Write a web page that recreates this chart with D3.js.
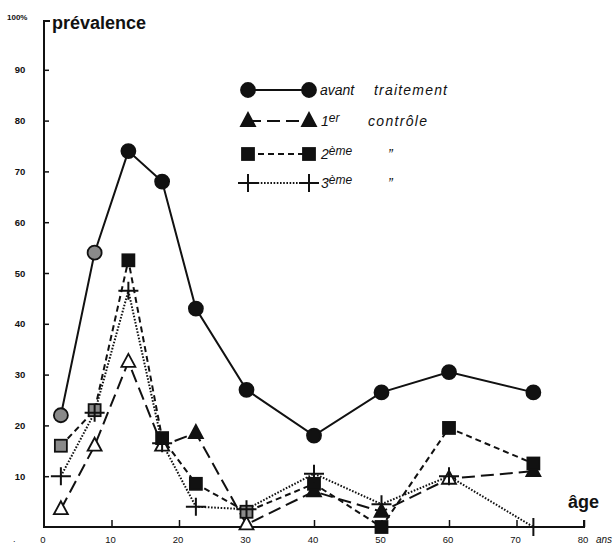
<!DOCTYPE html>
<html>
<head>
<meta charset="utf-8">
<script src="https://cdn.jsdelivr.net/npm/d3@7"></script>
<style>
  body { margin: 0; background: #fff; }
  svg { display: block; }
  text { fill: #111; font-family: "Liberation Sans", Arial, sans-serif; }
</style>
</head>
<body>
<div id="chart"></div>
<script>
// age groups (years) and prevalence (%) per survey
var ages = [2.5, 7.5, 12.5, 17.5, 22.5, 30, 40, 50, 60, 72.5];
var avant = [22, 54, 74, 68, 43, 27, 18, 26.5, 30.5, 26.5];
var ctrl1 = [3.5, 16, 32.5, 16, 18.5, 0.5, 7, 3, 9.5, 11];
var ctrl2 = [16, 23, 52.5, 17.5, 8.5, 3, 8.5, 0, 19.5, 12.5];
var ctrl3 = [10, 22.5, 46.5, 16.5, 4, 3.5, 10.5, 4.5, 10, 0];
var yTicks = [10, 20, 30, 40, 50, 60, 70, 80, 90];
var xTicks = [0, 10, 20, 30, 40, 50, 60, 70, 80];

var width = 615, height = 547;

var svg = d3.select("#chart").append("svg")
    .attr("width", width)
    .attr("height", height);

var x = d3.scaleLinear().domain([0, 80]).range([44, 584]);
var y = d3.scaleLinear().domain([0, 100]).range([527, 19]);

// axes, drawn by hand to look like the printed figure
var yAxis = d3.axisRight(y).tickValues(yTicks).tickSize(5).tickFormat("");
svg.append("g").attr("transform", "translate(" + x(0) + ",0)").call(yAxis)
    .call(function (g) { g.select(".domain").remove(); })
    .selectAll("line").attr("stroke", "#111").attr("stroke-width", 1.5);

var xAxis = d3.axisTop(x).tickValues(xTicks.slice(1)).tickSize(7).tickFormat("");
svg.append("g").attr("transform", "translate(0," + y(0) + ")").call(xAxis)
    .call(function (g) { g.select(".domain").remove(); })
    .selectAll("line").attr("stroke", "#111").attr("stroke-width", 1.5);

svg.append("path")
    .attr("d", "M" + (x(0) + 6) + "," + (y(100) + 2) + "H" + x(0) + "V" + y(0) + "H" + x(80) + "v-7")
    .attr("fill", "none")
    .attr("stroke", "#111")
    .attr("stroke-width", 2);

// tick labels
svg.selectAll(".ylab").data(yTicks).enter().append("text")
    .attr("class", "ylab")
    .attr("x", 20)
    .attr("y", function (d) { return y(d) + 3.5; })
    .attr("text-anchor", "middle")
    .style("font-size", "9.5px")
    .style("font-weight", "bold")
    .text(function (d) { return d; });

svg.append("text").attr("x", 7).attr("y", 20)
    .style("font-size", "8px").style("font-weight", "bold").text("100%");

svg.selectAll(".xlab").data(xTicks).enter().append("text")
    .attr("class", "xlab")
    .attr("x", function (d) { return x(d) - 1; })
    .attr("y", 543)
    .attr("text-anchor", "middle")
    .style("font-size", "9.5px")
    .text(function (d) { return d; });

svg.append("text").attr("x", 596).attr("y", 543)
    .style("font-size", "10px").style("font-style", "italic").text("ans");
svg.append("text").attr("x", 13).attr("y", 542)
    .style("font-size", "9px").text(".");

// titles
svg.append("text").attr("x", 52).attr("y", 29)
    .style("font-size", "18px").style("font-weight", "bold").text("prévalence");
svg.append("text").attr("x", 568).attr("y", 508)
    .style("font-size", "18px").style("font-weight", "bold").text("âge");

// series; "grey" marks are the hatched ones of the scan, "open" the hollow ones
var series = [
    { values: avant, dash: null, mark: "circle", grey: [0, 1], open: [] },
    { values: ctrl1, dash: "13,6", mark: "triangle", grey: [], open: [0, 1, 2, 3, 5, 8] },
    { values: ctrl2, dash: "6,4", mark: "square", grey: [0, 1, 5], open: [] },
    { values: ctrl3, dash: "1.6,1.6", mark: "plus", grey: [], open: [] }
];

var line = d3.line()
    .x(function (d) { return x(d[0]); })
    .y(function (d) { return y(d[1]); });

function drawMark(g, kind, cx, cy, fill) {
    if (kind === "circle") {
        g.append("circle").attr("cx", cx).attr("cy", cy).attr("r", 7)
            .attr("fill", fill).attr("stroke", "#111").attr("stroke-width", 1.8);
    } else if (kind === "triangle") {
        g.append("path")
            .attr("d", "M" + cx + "," + (cy - 8) + "L" + (cx + 7) + "," + (cy + 5) + "L" + (cx - 7) + "," + (cy + 5) + "Z")
            .attr("fill", fill).attr("stroke", "#111").attr("stroke-width", 1.8);
    } else if (kind === "square") {
        g.append("rect").attr("x", cx - 6).attr("y", cy - 6).attr("width", 12).attr("height", 12)
            .attr("fill", fill).attr("stroke", "#111").attr("stroke-width", 1.8);
    } else {
        g.append("path")
            .attr("d", "M" + (cx - 10) + "," + cy + "H" + (cx + 10) + "M" + cx + "," + (cy - 9) + "V" + (cy + 9))
            .attr("stroke", "#111").attr("stroke-width", 2);
    }
}

series.forEach(function (s) {
    var pts = ages.map(function (a, i) { return [a, s.values[i]]; });
    svg.append("path")
        .datum(pts)
        .attr("d", line)
        .attr("fill", "none")
        .attr("stroke", "#111")
        .attr("stroke-width", 2)
        .attr("stroke-dasharray", s.dash);
});

series.forEach(function (s) {
    var g = svg.append("g");
    ages.forEach(function (a, i) {
        var fill = s.open.indexOf(i) >= 0 ? "#fff" : (s.grey.indexOf(i) >= 0 ? "#8a8a8a" : "#111");
        drawMark(g, s.mark, x(a), y(s.values[i]), fill);
    });
});

// legend
var legendY = [90, 121, 154, 183];
var lg = svg.append("g");
series.forEach(function (s, i) {
    var ly = legendY[i];
    lg.append("line").attr("x1", 248).attr("x2", 309).attr("y1", ly).attr("y2", ly)
        .attr("stroke", "#111").attr("stroke-width", 2)
        .attr("stroke-dasharray", s.dash);
    drawMark(lg, s.mark, 248, ly, "#111");
    drawMark(lg, s.mark, 309, ly, "#111");
});

function legendText(tx, ty, main, sup) {
    var t = lg.append("text").attr("x", tx).attr("y", ty)
        .style("font-size", "14px").style("font-style", "italic");
    t.append("tspan").text(main);
    if (sup) t.append("tspan").attr("dy", -4).style("font-size", "12px").text(sup);
    return t;
}
legendText(320, legendY[0] + 5, "avant");
legendText(374, legendY[0] + 5, "traitement").attr("textLength", 73);
legendText(321, legendY[1] + 5, "1", "er");
legendText(368, legendY[1] + 5, "contrôle").attr("textLength", 59);
legendText(321, legendY[2] + 5, "2", "ème");
legendText(321, legendY[3] + 5, "3", "ème");
legendText(388, legendY[2] + 5, "\u201D");
legendText(388, legendY[3] + 5, "\u201D");
</script>
</body>
</html>
